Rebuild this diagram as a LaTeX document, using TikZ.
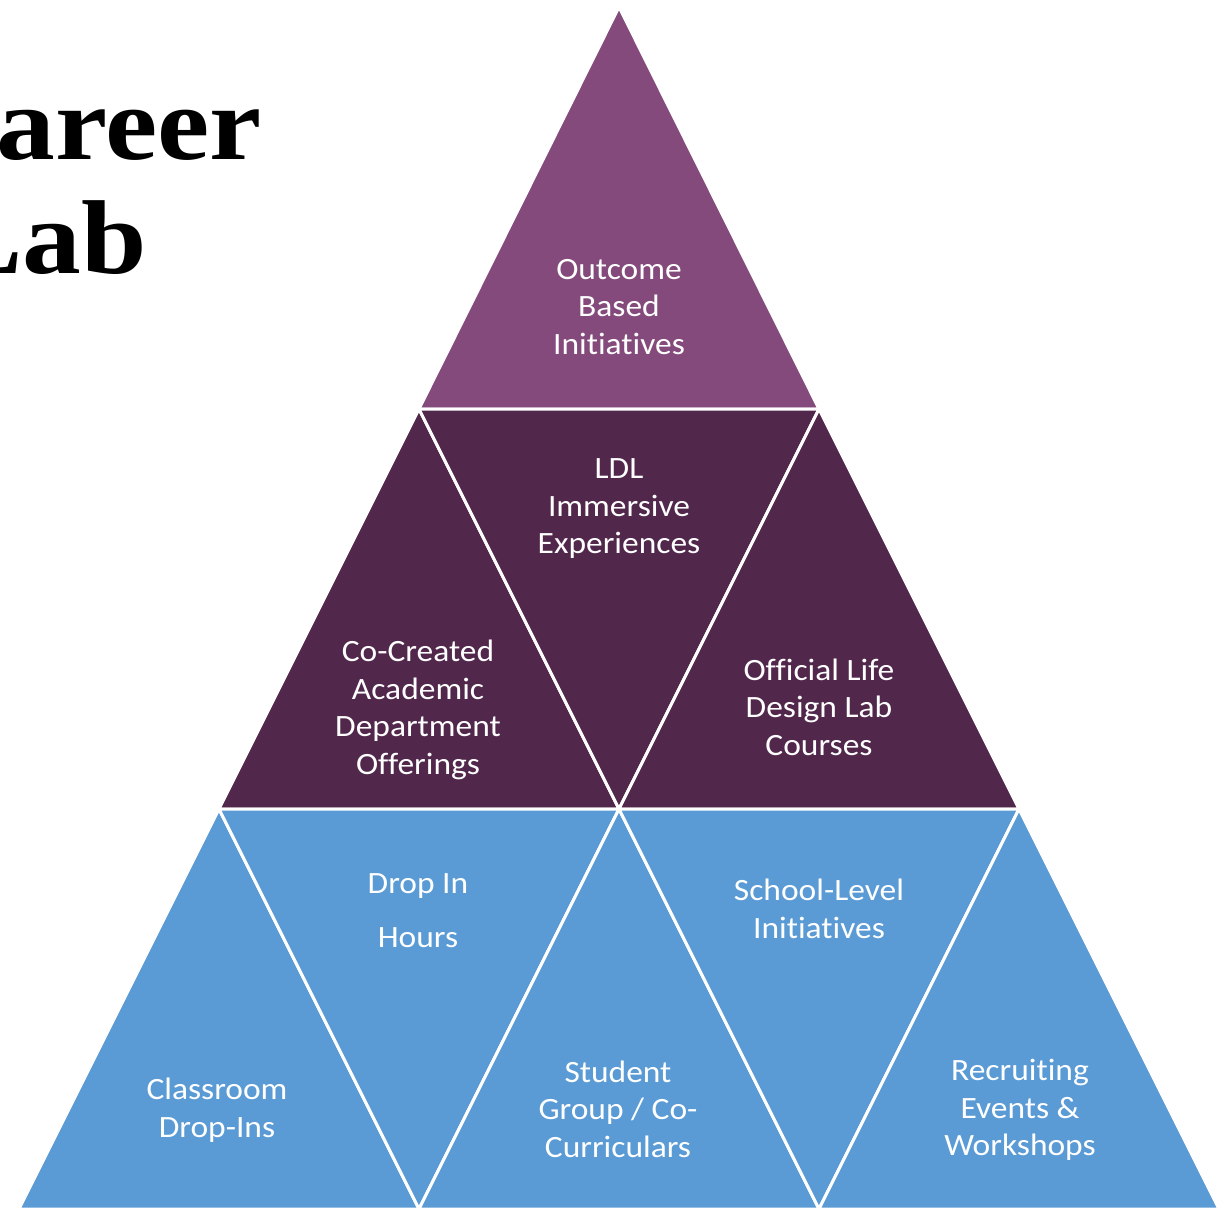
\documentclass[tikz,border=0pt]{standalone}
\usepackage{fontspec}
\setmainfont{Carlito}[FakeStretch=1.08,Ligatures={NoCommon,NoContextual}]
\newfontfamily\titlefont{Liberation Serif}[FakeStretch=1.12]
\definecolor{topPurple}{RGB}{132,74,124}
\definecolor{midPurple}{RGB}{82,39,76}
\definecolor{lowBlue}{RGB}{91,155,213}
\tikzset{
  tri/.style={draw=white, line width=3pt, line join=miter},
  lbl/.style={text=white, align=center, inner sep=0pt,
    font=\fontsize{31}{37.5}\selectfont},
  ttl/.style={anchor=base east, inner sep=0pt,
    font=\titlefont\bfseries\fontsize{105}{113}\selectfont}
}
\begin{document}
\begin{tikzpicture}[x=1pt,y=-1pt]
\useasboundingbox (0,0) rectangle (1227,1209);
% vertices
\coordinate (A) at (619,7);
\coordinate (B1) at (419,409);
\coordinate (B2) at (819,409);
\coordinate (C1) at (219,809);
\coordinate (C2) at (619,809);
\coordinate (C3) at (1019,809);
\coordinate (D1) at (19,1209);
\coordinate (D2) at (419,1209);
\coordinate (D3) at (819,1209);
\coordinate (D4) at (1219,1209);
% top row
\fill[topPurple, tri] (A) -- (B1) -- (B2) -- cycle;
% middle row
\fill[midPurple, tri] (B1) -- (C1) -- (C2) -- cycle;
\fill[midPurple, tri] (B1) -- (B2) -- (C2) -- cycle;
\fill[midPurple, tri] (B2) -- (C2) -- (C3) -- cycle;
% bottom row
\fill[lowBlue, tri] (C1) -- (D1) -- (D2) -- cycle;
\fill[lowBlue, tri] (C1) -- (C2) -- (D2) -- cycle;
\fill[lowBlue, tri] (C2) -- (D2) -- (D3) -- cycle;
\fill[lowBlue, tri] (C2) -- (C3) -- (D3) -- cycle;
\fill[lowBlue, tri] (C3) -- (D3) -- (D4) -- cycle;
% title
\node[ttl] (title1) at (262,160) {areer};
\node[ttl] (title2) at (147,273) {Lab};
% labels
\node[lbl] (outcome) at (619,307) {Outcome\\Based\\Initiatives};
\node[lbl] (ldl) at (619,509) {LDL\\Immersive\\Experiences};
\node[lbl] (cocreated) at (418,710) {Co-Created\\Academic\\Department\\Offerings};
\node[lbl] (official) at (819,707) {Official Life\\Design Lab\\Courses};
\node[lbl] (dropin) at (418,911) {Drop In\\[16.5pt]Hours};
\node[lbl] (school) at (819,909) {School-Level\\Initiatives};
\node[lbl] (classroom) at (217,1110) {Classroom\\Drop-Ins};
\node[lbl] (student) at (618,1109) {Student\\Group / Co-\\Curriculars};
\node[lbl] (recruit) at (1020,1110) {Recruiting\\Events \&\\Workshops};
\end{tikzpicture}
\end{document}
